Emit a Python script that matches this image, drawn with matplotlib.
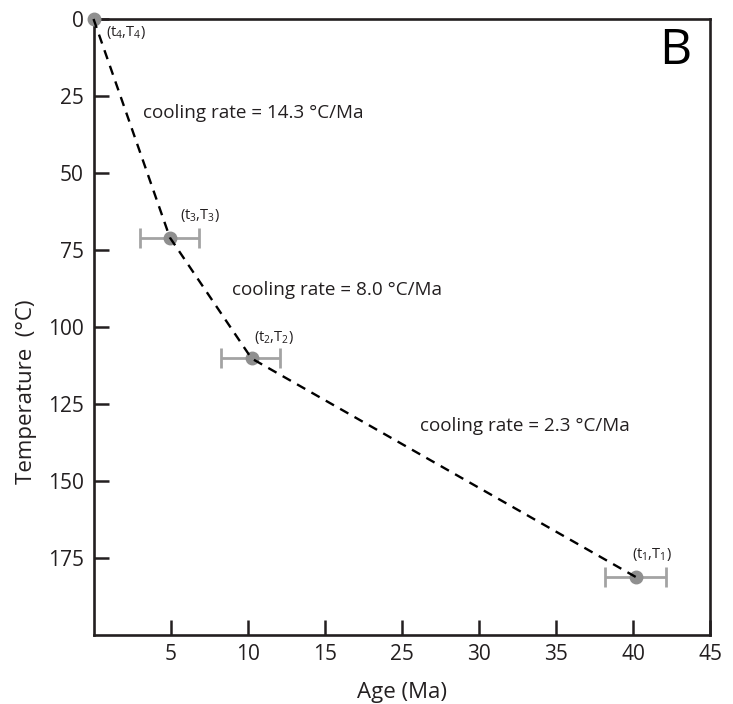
import numpy as np
import matplotlib
matplotlib.use("Agg")
import matplotlib.pyplot as plt

# 数据：年龄(Ma)、温度(°C)、年龄误差范围
age = [0.0, 4.95, 10.25, 40.2]
temp = [0.0, 71.0, 110.3, 181.4]
age_lo = [None, 3.0, 8.25, 38.2]
age_hi = [None, 6.85, 12.1, 42.1]
point_labels = ["(t$_4$,T$_4$)", "(t$_3$,T$_3$)", "(t$_2$,T$_2$)", "(t$_1$,T$_1$)"]
label_pos = [(0.8, 4.4), (5.6, 64.0), (10.4, 103.5), (39.9, 173.9)]
rate_text = ["cooling rate = 14.3 °C/Ma", "cooling rate = 8.0 °C/Ma", "cooling rate = 2.3 °C/Ma"]
rate_pos = [(3.2, 30.4), (9.0, 88.0), (26.2, 132.3)]
xticks = [5, 10, 15, 25, 30, 35, 40, 45]
yticks = [0, 25, 50, 75, 100, 125, 150, 175]

plt.rcParams['font.family'] = ['Open Sans', 'DejaVu Sans']
plt.rcParams['mathtext.fontset'] = 'custom'
plt.rcParams['mathtext.rm'] = 'Open Sans'
plt.rcParams['mathtext.it'] = 'Open Sans'

spine_c = "#231f20"
grey_pt = "#8f8f8f"
grey_bar = "#a3a3a3"


# 15-25 之间压缩（坐标轴断开）
def fwd(x):
    x = np.asarray(x, dtype=float)
    return np.where(x <= 15, x, np.where(x >= 25, x - 5, 15 + (x - 15) / 2))


def inv(y):
    y = np.asarray(y, dtype=float)
    return np.where(y <= 15, y, np.where(y >= 20, y + 5, 15 + (y - 15) * 2))


fig = plt.figure(figsize=(7.33, 7.04), dpi=100)
ax = fig.add_axes([0.1276, 0.0987, 0.8414, 0.8743])
ax.set_xscale('function', functions=(fwd, inv))
ax.set_xlim(0, 45)
ax.set_ylim(200, 0)

# 误差棒
for i in range(len(age)):
    if age_lo[i] is None:
        continue
    ax.errorbar(age[i], temp[i], xerr=[[age[i] - age_lo[i]], [age_hi[i] - age[i]]],
                fmt='none', ecolor=grey_bar, elinewidth=2.0, capsize=7, capthick=2.0, zorder=2)

ax.plot(age, temp, 'o', color=grey_pt, markersize=9, zorder=3, clip_on=False)
ax.plot(age, temp, color='black', lw=1.7, linestyle=(0, (4, 3)), zorder=4, clip_on=False)

for lab, (x, y) in zip(point_labels, label_pos):
    ax.text(x, y, lab, fontsize=10.5, ha='left', va='center', color='#231f20')
for lab, (x, y) in zip(rate_text, rate_pos):
    ax.text(x, y, lab, fontsize=13.6, ha='left', va='center', color='#231f20')

ax.text(0.943, 0.948, "B", transform=ax.transAxes, fontsize=36, ha='center', va='center', color='black')

ax.set_xticks(xticks)
ax.set_xticklabels([str(t) for t in xticks])
ax.set_yticks(yticks)
ax.xaxis.set_minor_locator(matplotlib.ticker.NullLocator())
ax.yaxis.set_minor_locator(matplotlib.ticker.NullLocator())
ax.tick_params(direction='in', length=11, width=1.8, color=spine_c, labelsize=15,
               labelcolor='#231f20', pad=7)
for s in ax.spines.values():
    s.set_linewidth(1.9)
    s.set_color(spine_c)

ax.set_xlabel("Age (Ma)", fontsize=16, labelpad=12, color='#231f20')
ax.set_ylabel("Temperature  (°C)", fontsize=16, color='#231f20')
ax.yaxis.set_label_coords(-0.092, 0.394)

plt.savefig("out.png", dpi=100)
